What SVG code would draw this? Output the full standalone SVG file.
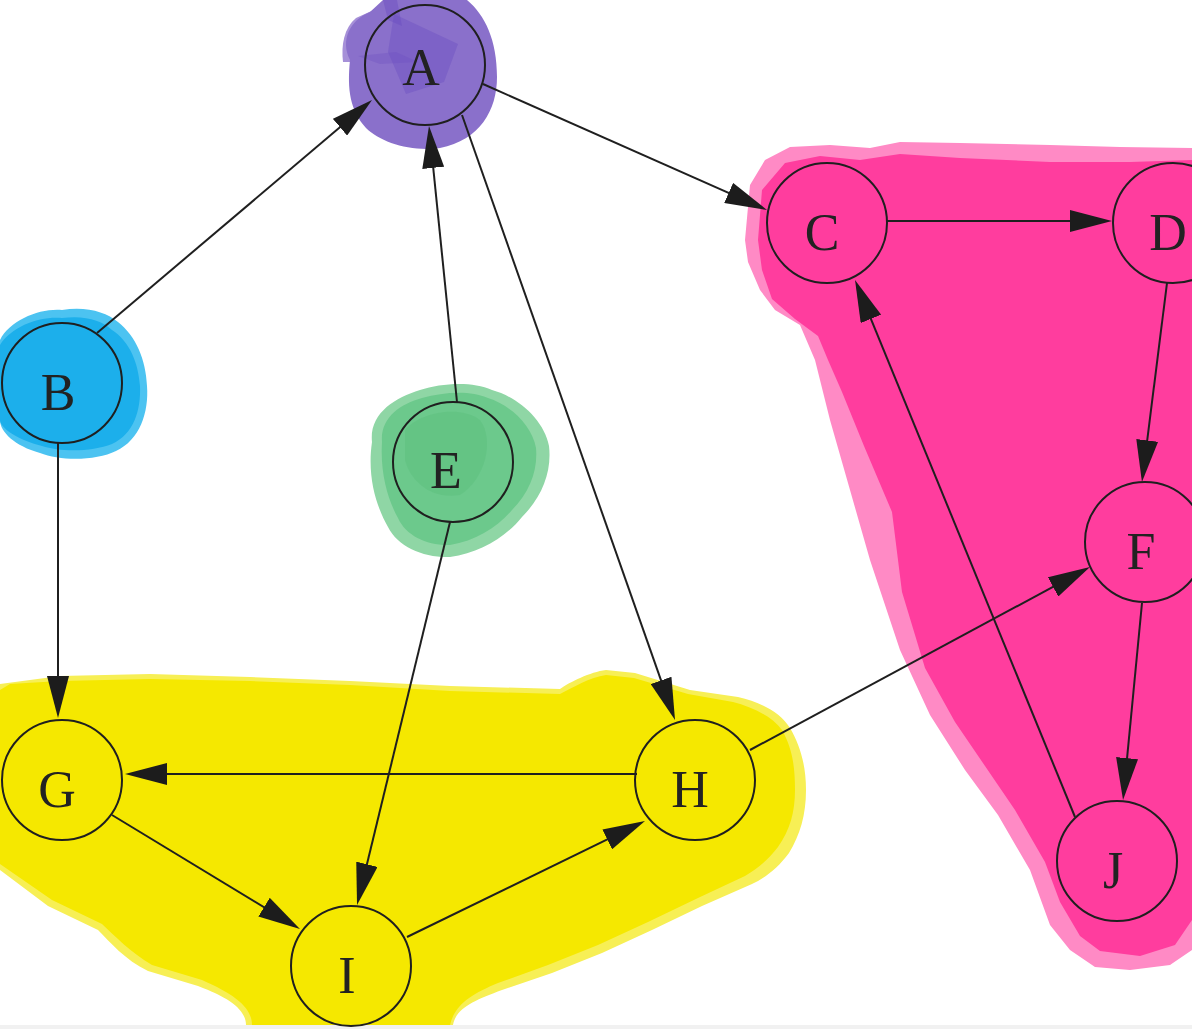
<svg xmlns="http://www.w3.org/2000/svg" width="1192" height="1029" viewBox="0 0 1192 1029">
  <defs>
    <marker id="arrow" viewBox="0 0 42 22" refX="32" refY="11" markerWidth="42" markerHeight="22" markerUnits="userSpaceOnUse" orient="auto">
      <path d="M0,0 L42,11 L0,22 Z" fill="#1c1c1c"/>
    </marker>
    <style>
      .node circle { fill: none; stroke: #1f1f1f; stroke-width: 2; }
      .node text { font-family: "Liberation Serif", "DejaVu Serif", serif; font-size: 52px; fill: #222222; text-anchor: middle; }
      .edge { fill: none; stroke: #1f1f1f; stroke-width: 2; marker-end: url(#arrow); }
    </style>
  </defs>

  <rect x="0" y="0" width="1192" height="1029" fill="#ffffff"/>
  <rect x="0" y="1025" width="1192" height="4" fill="#f1f1f1"/>

  <!-- marker highlights behind the graph -->
  <g id="highlights">
    <!-- purple wash around A -->
    <g id="wash-purple">
      <path d="M343,62 C341,45 344,28 356,18 L378,8 L384,62 Z" fill="#a690d8"/>
      <path d="M350,60 C340,40 350,20 370,12 L383,0 L467,0 C485,15 497,40 497,77 C497,110 480,140 440,148 C410,152 380,142 366,128 C350,110 347,90 350,60 Z" fill="#8a70cb"/>
      <path d="M394,14 L458,44 L444,82 L406,94 L388,52 Z" fill="#6a4dc0" opacity="0.4"/>
      <path d="M383,0 L397,0 L402,26 L388,20 Z" fill="#6a4dc0" opacity="0.45"/>
      <path d="M358,56 L396,52 L418,62 L380,64 Z" fill="#6a4dc0" opacity="0.3"/>
    </g>
    <!-- blue wash around B -->
    <g id="wash-blue">
      <path d="M0,340 C10,320 40,308 62,310 C86,306 106,312 118,322 C136,336 146,360 147,386 C149,412 140,440 116,451 C96,461 60,461 40,453 C15,446 0,432 0,420 Z" fill="#4cc3f1"/>
      <path d="M0,345 C12,326 40,316 62,318 C84,315 102,320 112,330 C130,342 138,362 140,386 C141,410 134,434 112,444 C92,452 60,452 42,446 C18,440 0,428 0,420 Z" fill="#1cafeb"/>
    </g>
    <!-- green wash around E -->
    <g id="wash-green">
      <path d="M372,442 C369,414 394,398 420,390 C442,383 472,381 492,390 C518,397 544,420 549,446 C552,472 542,497 522,517 C506,537 480,553 450,557 C424,558 398,547 388,527 C376,506 367,476 372,442 Z" fill="#8fd6a5"/>
      <path d="M382,442 C380,418 400,404 422,398 C444,392 470,390 488,398 C510,405 532,425 536,448 C538,470 530,492 512,510 C498,527 476,541 450,545 C428,546 406,536 398,518 C388,500 380,474 382,442 Z" fill="#6cc98c"/>
      <path d="M405,430 C420,412 460,405 480,420 C495,440 485,480 460,495 C430,500 410,480 405,460 Z" fill="#52b875" opacity="0.3"/>
    </g>
    <!-- yellow wash around G, H, I -->
    <g id="wash-yellow">
      <path d="M0,684 L60,676 L150,674 L250,677 L350,681 L450,686 L560,689 C570,682 590,672 606,670 L635,673 L690,690 L738,697 C760,702 780,712 790,728 C800,745 806,765 806,790 C806,815 800,835 789,853 C778,868 765,878 752,884 L702,906 L652,930 L602,953 L552,973 L502,990 C475,1000 456,1008 453,1025 L246,1025 C246,1010 230,998 198,986 L148,971 C125,960 110,942 98,930 L48,906 L0,870 Z" fill="#f7ef55"/>
      <path d="M0,690 L10,684 L60,681 L150,679 L250,681 L350,685 L450,691 L560,694 C572,688 590,677 606,675 L634,678 L688,694 L733,702 C752,707 772,716 782,730 C792,748 795,765 795,790 C795,812 790,830 778,847 C768,860 758,868 745,876 L698,898 L648,922 L598,945 L548,965 L498,983 C472,994 455,1004 450,1025 L252,1025 C252,1008 236,995 202,980 L152,965 C130,952 115,936 102,924 L52,900 L0,864 Z" fill="#f5e800"/>
    </g>
    <!-- pink wash around C, D, F, J -->
    <g id="wash-pink">
      <path d="M745,240 L750,185 L765,160 L790,147 L830,145 L870,148 L900,142 L960,143 L1050,145 L1120,147 L1192,148 L1192,950 L1170,965 L1130,970 L1095,967 L1070,950 L1050,925 L1030,870 L998,815 L965,770 L930,715 L900,650 L870,560 L850,490 L830,420 L815,360 L800,325 L775,310 L760,290 L748,262 Z" fill="#ff8ac5"/>
      <path d="M758,240 L762,190 L785,163 L820,156 L860,160 L900,154 L960,158 L1050,162 L1130,162 L1192,160 L1192,920 L1175,945 L1140,956 L1100,951 L1080,936 L1060,902 L1045,862 L1015,810 L985,766 L955,722 L925,668 L902,592 L892,512 L864,446 L842,392 L828,360 L818,336 L795,319 L772,299 L762,270 Z" fill="#ff3d9e"/>
    </g>
  </g>

  <!-- connectors -->
  <g id="edges">
    <path class="edge" d="M97,333 L364.4,106.5"/>
    <path class="edge" d="M483,84 L757.9,205.9"/>
    <path class="edge" d="M457,402 L430,136"/>
    <path class="edge" d="M462,115 L671.7,710.6"/>
    <path class="edge" d="M887,221 L1102,221"/>
    <path class="edge" d="M1167,283 L1143.2,472.1"/>
    <path class="edge" d="M1075,817 L858.8,289.3"/>
    <path class="edge" d="M58,443 L58,708"/>
    <path class="edge" d="M450,522 L359.4,895.3"/>
    <path class="edge" d="M637,774 L135,774"/>
    <path class="edge" d="M750,750 L1081.2,571.7"/>
    <path class="edge" d="M112,815 L291.4,923.8"/>
    <path class="edge" d="M407,937 L636,825.4"/>
    <path class="edge" d="M1142,603 L1124,790"/>
  </g>

  <!-- nodes -->
  <g id="node-A" class="node"><circle cx="425" cy="65" r="60"/><text x="421" y="85">A</text></g>
  <g id="node-B" class="node"><circle cx="62" cy="383" r="60"/><text x="58" y="410">B</text></g>
  <g id="node-C" class="node"><circle cx="827" cy="223" r="60"/><text x="822" y="250">C</text></g>
  <g id="node-D" class="node"><circle cx="1173" cy="223" r="60"/><text x="1168" y="250">D</text></g>
  <g id="node-E" class="node"><circle cx="453" cy="462" r="60"/><text x="446" y="488">E</text></g>
  <g id="node-F" class="node"><circle cx="1145" cy="542" r="60"/><text x="1141" y="569">F</text></g>
  <g id="node-G" class="node"><circle cx="62" cy="780" r="60"/><text x="57" y="807">G</text></g>
  <g id="node-H" class="node"><circle cx="695" cy="780" r="60"/><text x="690" y="807">H</text></g>
  <g id="node-I" class="node"><circle cx="351" cy="966" r="60"/><text x="347" y="993">I</text></g>
  <g id="node-J" class="node"><circle cx="1117" cy="861" r="60"/><text x="1113" y="888">J</text></g>
</svg>
